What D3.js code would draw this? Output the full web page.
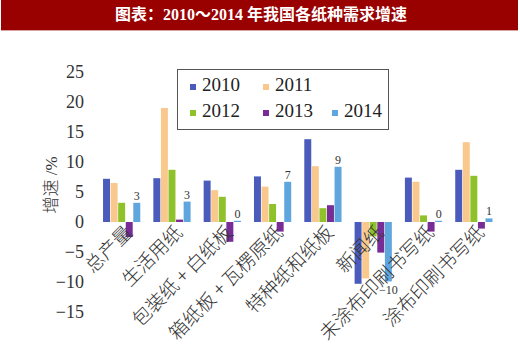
<!DOCTYPE html>
<html><head><meta charset="utf-8">
<script src="https://cdn.jsdelivr.net/npm/d3@7"></script>
<style>body{margin:0;background:#fff}svg{display:block}</style>
</head><body>
<script>
const categories = ["总产量","生活用纸","包装纸 + 白纸板","箱纸板 + 瓦楞原纸","特种纸和纸板","新闻纸","未涂布印刷书写纸","涂布印刷书写纸"];
const years = ["2010","2011","2012","2013","2014"];
const v2010 = [7.2, 7.3, 6.9, 7.6, 13.8, -10.3, 7.4, 8.7];
const v2011 = [6.5, 19.0, 5.3, 5.9, 9.3, -9.4, 6.7, 13.3];
const v2012 = [3.2, 8.7, 4.2, 3.0, 2.3, -2.4, 1.1, 7.7];
const v2013 = [-2.5, 0.4, -3.3, -1.6, 2.8, -5.1, -1.6, -1.1];
const v2014 = [3.2, 3.4, 0.2, 6.7, 9.2, -9.9, 0.2, 0.6];
const yTicks = [25, 20, 15, 10, 5, 0, -5, -10, -15];
const colors = ["#4b5bbb", "#f9c88c", "#8fc22a", "#782c96", "#5ea6dd"];
const series = [v2010, v2011, v2012, v2013, v2014];

const W = 520, H = 344;
const svg = d3.select("body").append("svg").attr("width", W).attr("height", H);

// title bar
svg.append("rect").attr("x", 1).attr("y", 0).attr("width", 517).attr("height", 30).attr("fill", "#990000");
svg.append("line").attr("x1", 1).attr("x2", 518).attr("y1", 30.5).attr("y2", 30.5).attr("stroke", "#d9a0a0");
svg.append("text").attr("x", 261).attr("y", 16).attr("text-anchor", "middle").attr("dominant-baseline", "middle")
  .attr("fill", "#fff").attr("font-size", 16).attr("font-weight", "bold")
  .attr("font-family", "'Liberation Serif','Noto Sans CJK SC',serif")
  .text("图表：2010～2014 年我国各纸种需求增速");

const x = d3.scaleBand().domain(categories).range([96.5, 499]).paddingInner(0.26).paddingOuter(0.13);
const xi = d3.scaleBand().domain(years).range([0, x.bandwidth()]).paddingInner(0.08);
const y = d3.scaleLinear().domain([-15, 25]).range([312, 72]);

// y axis labels
const yAxis = d3.axisLeft(y).tickValues(yTicks).tickSize(0).tickPadding(0)
  .tickFormat(d => d < 0 ? "−" + Math.abs(d) : String(d));
const ga = svg.append("g").attr("transform", "translate(84,0)").call(yAxis);
ga.select(".domain").remove();
ga.selectAll("text").attr("font-size", 18).attr("fill", "#333").attr("font-family", "'Liberation Serif',serif");

// y title
svg.append("text").attr("transform", "translate(57,185) rotate(-90)").attr("text-anchor", "middle")
  .attr("font-size", 17).attr("fill", "#333").attr("font-weight", 300)
  .attr("font-family", "'Liberation Serif','Noto Sans CJK SC',serif")
  .text("增速 /%");

// bars
const rows = [];
categories.forEach((c, i) => years.forEach((yr, j) => rows.push({c, yr, j, v: series[j][i]})));
svg.append("g").selectAll("rect").data(rows).join("rect")
  .attr("x", d => x(d.c) + xi(d.yr))
  .attr("width", xi.bandwidth())
  .attr("y", d => y(Math.max(0, d.v)))
  .attr("height", d => Math.max(1, Math.abs(y(d.v) - y(0))))
  .attr("fill", d => colors[d.j]);

// value labels for 2014
const fmt = d => { const r = Math.round(d); return r < 0 ? "−" + Math.abs(r) : String(r); };
svg.append("g").selectAll("text").data(categories).join("text")
  .attr("x", (c) => x(c) + xi("2014") + xi.bandwidth() / 2)
  .attr("y", (c, i) => v2014[i] >= 0 ? y(v2014[i]) - 3 : y(v2014[i]) + 13)
  .attr("text-anchor", "middle").attr("font-size", 12).attr("fill", "#333")
  .attr("font-family", "'Liberation Serif',serif")
  .text((c, i) => fmt(v2014[i]));

// category labels
svg.append("g").selectAll("text").data(categories).join("text")
  .attr("transform", c => `translate(${x(c) + x.bandwidth() / 2 + 7},229) rotate(-45)`)
  .attr("text-anchor", "end").attr("dy", "0.35em")
  .attr("font-size", 19).attr("fill", "#333").attr("font-weight", 300)
  .attr("font-family", "'Noto Sans CJK SC',sans-serif")
  .text(c => c);

// legend
const lg = svg.append("g");
lg.append("rect").attr("x", 177.5).attr("y", 69.5).attr("width", 211).attr("height", 60)
  .attr("fill", "#fff").attr("stroke", "#555");
const lpos = [[190, 87], [263, 87], [190, 113], [263, 113], [332, 113]];
years.forEach((yr, j) => {
  const [lx, ly] = lpos[j];
  lg.append("rect").attr("x", lx).attr("y", ly - 3).attr("width", 6).attr("height", 6).attr("fill", colors[j]);
  lg.append("text").attr("x", lx + 12).attr("y", ly).attr("dominant-baseline", "middle")
    .attr("font-size", 19).attr("fill", "#222").attr("font-family", "'Liberation Serif',serif").text(yr);
});
</script>
</body></html>
